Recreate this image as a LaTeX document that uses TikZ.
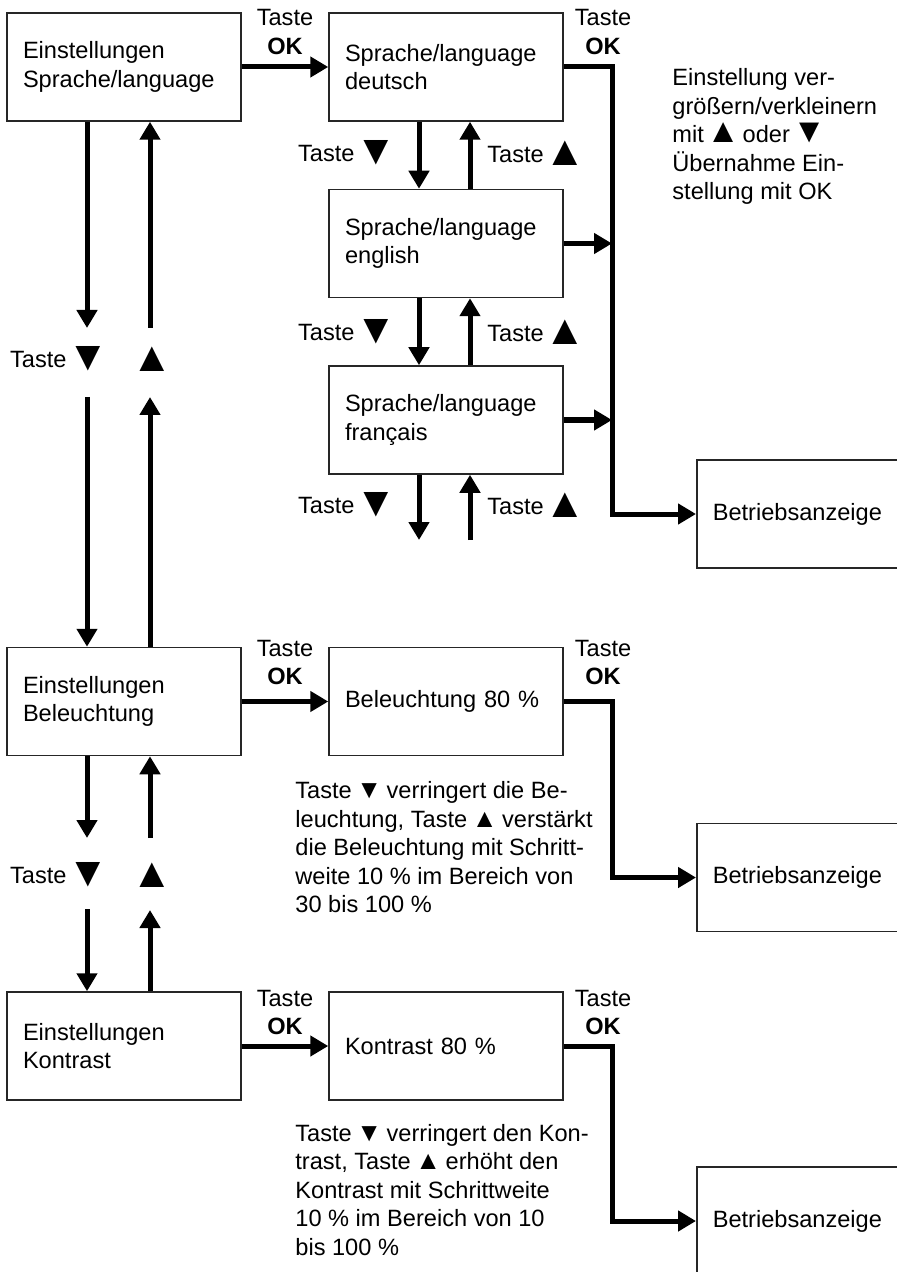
\documentclass[tikz,border=0pt]{standalone}
\usepackage{fontspec}
\setmainfont{Liberation Sans}
\usetikzlibrary{arrows.meta}
\newcommand\tdn{\kern-3pt\raisebox{-1.5pt}{\fontsize{21}{21}\selectfont ▼}\kern-4pt}
\newcommand\tup{\kern-3pt\raisebox{-1.5pt}{\fontsize{21}{21}\selectfont ▲}\kern-4pt}
\newcommand\mdn{\kern-2pt\smash{\fontsize{17}{17}\selectfont ▼}\kern-2pt}
\newcommand\mup{\kern-2pt\smash{\fontsize{17}{17}\selectfont ▲}\kern-2pt}
\newcommand\sdn{\kern-1pt\smash{\fontsize{13}{13}\selectfont ▼}\kern-1pt}
\newcommand\smup{\kern-1pt\smash{\fontsize{13}{13}\selectfont ▲}\kern-1pt}

\begin{document}
\begin{tikzpicture}[x=0.5pt, y=-0.5pt, font=\fontsize{11.8}{14.25}\selectfont,
  box/.style={draw=black!85, line width=0.75pt, minimum height=54pt, text width=101pt, inner xsep=8pt, inner ysep=0pt, align=left},
  arr/.style={line width=2.5pt, -{Triangle[length=9pt,width=10pt]}},
  lbl/.style={inner sep=0pt},
  note/.style={inner sep=0pt, align=left, anchor=west}]

\useasboundingbox (0,0) rectangle (897,1272);
\clip (0,0) rectangle (897,1272);

% boxes
\node[box] (A) at (124,67) {Einstellungen\\Sprache/language};
\node[box] (D) at (446,67) {Sprache/language\\deutsch};
\node[box] (E) at (446,243.5) {Sprache/language\\english};
\node[box] (F) at (446,420) {Sprache/language\\français};
\node[box, anchor=west] (ba1) at (696,514) {Betriebsanzeige};
\node[box] (B) at (124,701.5) {Einstellungen\\Beleuchtung};
\node[box] (L) at (446,701.5) {Beleuchtung 80 \%};
\node[box, anchor=west] (ba2) at (696,877.5) {Betriebsanzeige};
\node[box] (K) at (124,1046) {Einstellungen\\Kontrast};
\node[box] (KW) at (446,1046) {Kontrast 80 \%};
\node[box, anchor=west] (ba3) at (696,1221) {Betriebsanzeige};

% Taste OK
\node[lbl, align=center] (okA) at (285,32) {Taste\\\textbf{OK}};
\node[lbl, align=center] (okD) at (603,32) {Taste\\\textbf{OK}};
\node[lbl, align=center] (okB) at (285,662.5) {Taste\\\textbf{OK}};
\node[lbl, align=center] (okL) at (603,662.5) {Taste\\\textbf{OK}};
\node[lbl, align=center] (okK) at (285,1012.5) {Taste\\\textbf{OK}};
\node[lbl, align=center] (okKW) at (603,1012.5) {Taste\\\textbf{OK}};

\draw[arr] (A) -- (D);
\draw[arr] (B) -- (L);
\draw[arr] (K) -- (KW);

% to Betriebsanzeige
\coordinate (bus1) at (612,67);
\coordinate (bus2) at (612,701.5);
\coordinate (bus3) at (612,1046);
\draw[arr] (D.east) -- (bus1) |- (ba1.west);
\draw[arr] (E.east) -- (E.east -| bus1);
\draw[arr] (F.east) -- (F.east -| bus1);
\draw[arr] (L.east) -- (bus2) |- (ba2.west);
\draw[arr] (KW.east) -- (bus3) |- (ba3.west);

% language list
\coordinate (xdn) at (419,0);
\coordinate (xup) at (470,0);
\coordinate (fDn) at (419,540);
\coordinate (fUp) at (470,540);
\draw[arr] (D.south -| xdn) -- (E.north -| xdn);
\draw[arr] (E.north -| xup) -- (D.south -| xup);
\draw[arr] (E.south -| xdn) -- (F.north -| xdn);
\draw[arr] (F.north -| xup) -- (E.south -| xup);
\draw[arr] (F.south -| fDn) -- (fDn);
\draw[arr] (fUp) -- (F.south -| fUp);

\node[lbl, anchor=east] (tD1) at (389,153) {Taste \tdn};
\node[lbl, anchor=west] (tD2) at (487,153) {Taste \tup};
\node[lbl, anchor=east] (tE1) at (389,332) {Taste \tdn};
\node[lbl, anchor=west] (tE2) at (487,332) {Taste \tup};
\node[lbl, anchor=east] (tF1) at (389,505) {Taste \tdn};
\node[lbl, anchor=west] (tF2) at (487,505) {Taste \tup};

% left column
\coordinate (aDn1) at (87,328);
\coordinate (aDn2) at (87,397);
\coordinate (aUp1) at (150,328);
\coordinate (aUp2) at (150,397);
\draw[arr] (A.south -| aDn1) -- (aDn1);
\draw[arr] (aDn2) -- (B.north -| aDn2);
\draw[arr] (B.north -| aUp2) -- (aUp2);
\draw[arr] (aUp1) -- (A.south -| aUp1);
\node[lbl, anchor=east] (tA1) at (101,359) {Taste \tdn};
\node[lbl] (tA2) at (151,359) {\tup};

\coordinate (bDn1) at (87,838);
\coordinate (bDn2) at (87,909);
\coordinate (bUp1) at (150,838);
\coordinate (bUp2) at (150,910);
\draw[arr] (B.south -| bDn1) -- (bDn1);
\draw[arr] (bDn2) -- (K.north -| bDn2);
\draw[arr] (K.north -| bUp2) -- (bUp2);
\draw[arr] (bUp1) -- (B.south -| bUp1);
\node[lbl, anchor=east] (tB1) at (101,875) {Taste \tdn};
\node[lbl] (tB2) at (151,875) {\tup};

% notes
\node[note] (hint) at (672,136.5) {Einstellung ver-\\größern/verkleinern\\mit \mup{} oder \mdn{}\\Übernahme Ein-\\stellung mit OK};
\node[note] (belText) at (295,847.5) {Taste \sdn{} verringert die Be-\\leuchtung, Taste \smup{} verstärkt\\die Beleuchtung mit Schritt-\\weite 10 \% im Bereich von\\30 bis 100 \%};
\node[note] (konText) at (295,1190) {Taste \sdn{} verringert den Kon-\\trast, Taste \smup{} erhöht den\\Kontrast mit Schrittweite\\10 \% im Bereich von 10\\bis 100 \%};

\end{tikzpicture}
\end{document}
